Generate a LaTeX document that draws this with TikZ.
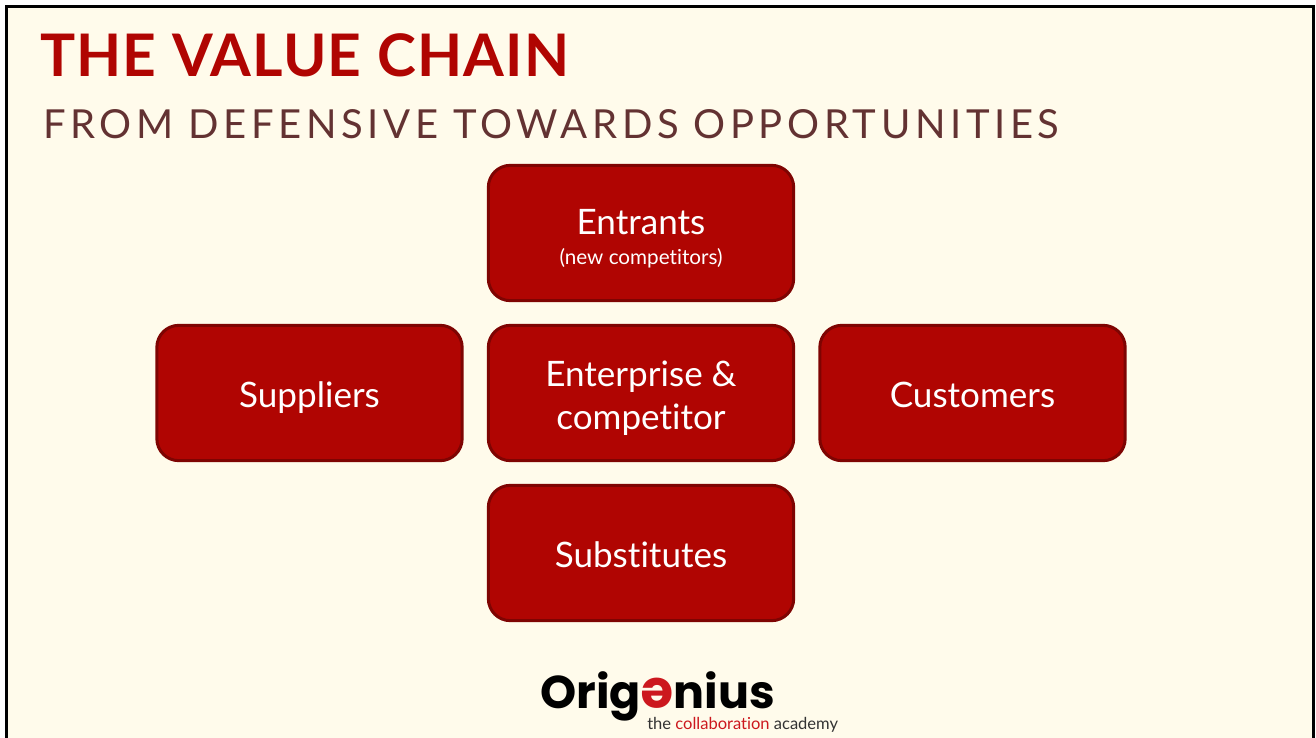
\documentclass[tikz,border=0pt]{standalone}
\usepackage{fontspec}
\usepackage{graphicx}
\setmainfont{Lato}[Ligatures=NoCommon]
\newfontfamily\logofont{Poppins}
\usepackage{tikz}
\definecolor{slidebg}{RGB}{255,251,235}
\definecolor{boxred}{RGB}{176,5,2}
\definecolor{boxedge}{RGB}{126,4,2}
\definecolor{subbrown}{RGB}{99,50,50}
\definecolor{logored}{RGB}{204,24,30}
\newcommand{\tophold}{\rule{0pt}{33pt}}
\newcommand{\tallhold}{\rule{0pt}{34.5pt}}
\newcommand{\bothold}{\rule[-12pt]{0pt}{12pt}}
\tikzset{
  valuebox/.style={draw=boxedge,fill=boxred,line width=2.25pt,rounded corners=16.5pt,
    minimum width=229pt,minimum height=101.5pt,align=center,text=white,inner sep=0pt,
    font=\fontsize{26.3}{32}\selectfont},
}
\begin{document}
\begin{tikzpicture}[x=0.75pt,y=0.75pt,yscale=-1,xscale=1]
                  \useasboundingbox (0,0) rectangle (1316,738);

                  %Shape: Slide background
                  \fill [white] (0,0) rectangle (1316,738);
                  \draw [line width=2.25pt,fill=slidebg] (6,7) rectangle (1313.5,745);

                  % Text Node
                  \draw (40,55) node (title) [anchor=west][inner sep=0pt][text=boxred] {\fontsize{44}{50}\selectfont\bfseries\addfontfeature{LetterSpace=2}THE VALUE CHAIN};
                  % Text Node
                  \draw (43,124) node (subtitle) [anchor=west][inner sep=0pt][text=subbrown] {\fontsize{30}{40}\selectfont\addfontfeature{LetterSpace=11.5}FROM DEFENSIVE TOWARDS OPPORTUNITIES};

                  % Boxes
                  \draw (641,233) node (entrants) [valuebox] {\tallhold Entrants\\[-9.5pt]{\fontsize{15.5}{18}\selectfont (new competitors)\rule[-10pt]{0pt}{10pt}}};
                  \draw (309.5,393) node (suppliers) [valuebox] {\tophold Suppliers\bothold};
                  \draw (641,393) node (enterprise) [valuebox] {\tallhold Enterprise \&\\competitor\bothold};
                  \draw (972.5,393) node (customers) [valuebox] {\tophold Customers\bothold};
                  \draw (641,553) node (substitutes) [valuebox] {\tophold Substitutes\bothold};

                  % Logo
                  \draw (540,696) node (logo) [anchor=west][inner sep=0pt] {\logofont\fontsize{34.5}{40}\selectfont\bfseries Orig{\color{logored}\rotatebox[origin=c]{180}{\scalebox{1.15}{e}}}nius};
                  \draw (647,724.5) node (tagline) [anchor=west][inner sep=0pt][text=black!80] {\fontsize{12.4}{14}\selectfont the {\color{logored}collaboration} academy};

              \end{tikzpicture}
\end{document}
